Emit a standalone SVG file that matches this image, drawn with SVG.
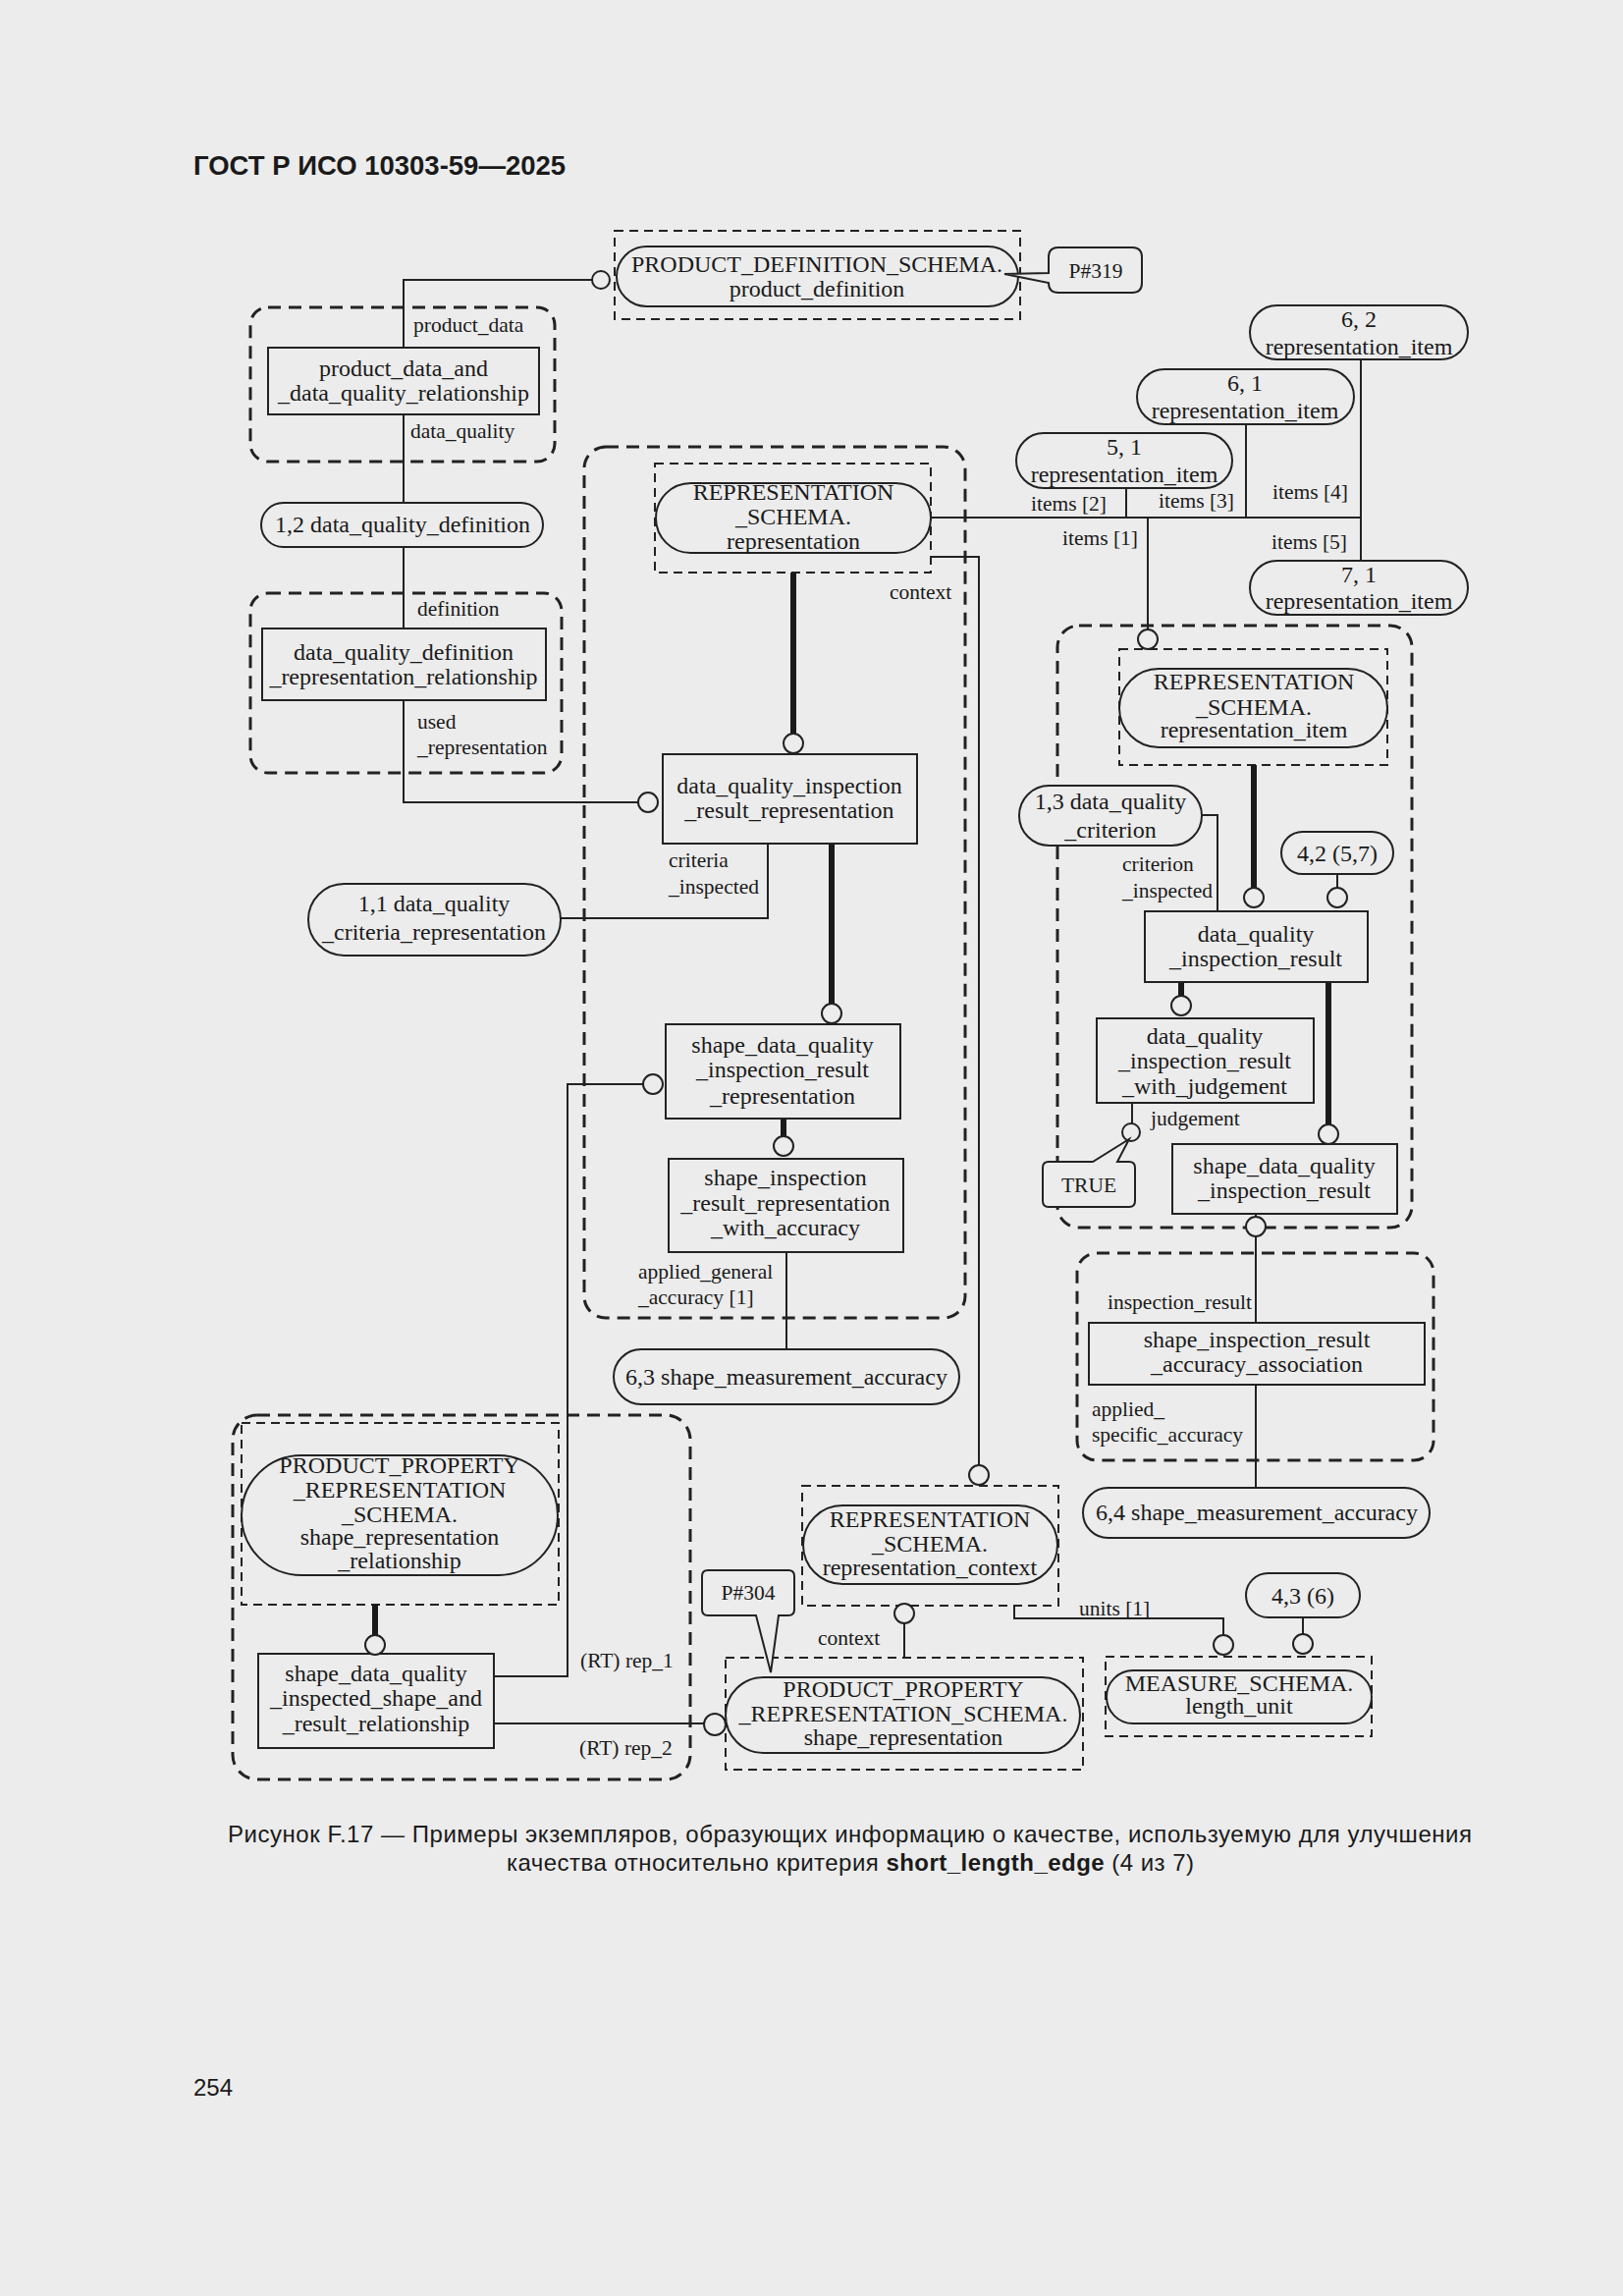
<svg xmlns="http://www.w3.org/2000/svg" width="1653" height="2338" viewBox="0 0 1653 2338">
<style>
.bg{fill:#ececec}
.grp{fill:none;stroke:#222;stroke-width:3;stroke-dasharray:13 8}
.ref{fill:none;stroke:#222;stroke-width:2;stroke-dasharray:9 6}
.box{fill:#ececec;stroke:#222;stroke-width:2}
.st{fill:#ececec;stroke:#222;stroke-width:2}
.ln{fill:none;stroke:#222;stroke-width:2}
.tk{fill:none;stroke:#1a1a1a;stroke-width:6}
.cr{fill:#ececec;stroke:#222;stroke-width:2}
.t{font-family:"Liberation Serif","Times New Roman",serif;font-size:24px;fill:#1a1a1a;text-anchor:middle}
.l{font-family:"Liberation Serif","Times New Roman",serif;font-size:21.5px;fill:#1a1a1a}
.cap{font-family:"Liberation Sans",Arial,sans-serif;font-size:24px;fill:#1a1a1a}
</style>
<rect class="bg" x="0" y="0" width="1653" height="2338"/>
<text class="cap" x="197" y="178" style="font-weight:bold;font-size:27.5px">ГОСТ Р ИСО 10303-59—2025</text>

<g id="groups">
<rect class="grp" x="255" y="313" width="310" height="157" rx="18"/>
<rect class="grp" x="255" y="604" width="317" height="183" rx="18"/>
<rect class="grp" x="595" y="455" width="388" height="887" rx="22"/>
<rect class="grp" x="1077" y="637" width="361" height="613" rx="22"/>
<rect class="grp" x="1097" y="1276" width="363" height="211" rx="20"/>
<rect class="grp" x="237" y="1441" width="466" height="371" rx="25"/>
<rect class="ref" x="626" y="235" width="413" height="90"/>
<rect class="ref" x="667" y="472" width="281" height="111"/>
<rect class="ref" x="1140" y="661" width="273" height="118"/>
<rect class="ref" x="817" y="1513" width="261" height="122"/>
<rect class="ref" x="739" y="1688" width="364" height="114"/>
<rect class="ref" x="1126" y="1687" width="271" height="81"/>
<rect class="ref" x="246" y="1449" width="323" height="185"/>
</g>

<g id="connectors">
<polyline class="ln" points="603,285 411,285 411,354"/>
<line class="ln" x1="411" y1="422" x2="411" y2="512"/>
<line class="ln" x1="411" y1="557" x2="411" y2="640"/>
<polyline class="ln" points="411,713 411,817 650,817"/>
<line class="tk" x1="808" y1="583" x2="808" y2="748"/>
<polyline class="ln" points="782,859 782,935 571,935"/>
<line class="tk" x1="847" y1="859" x2="847" y2="1023"/>
<polyline class="ln" points="503,1707 578,1707 578,1104 655,1104"/>
<line class="tk" x1="798" y1="1139" x2="798" y2="1158"/>
<line class="ln" x1="801" y1="1275" x2="801" y2="1374"/>
<polyline class="ln" points="948,567 997,567 997,1492"/>
<polyline class="ln" points="948,527 1386,527"/>
<line class="ln" x1="1147" y1="497" x2="1147" y2="527"/>
<line class="ln" x1="1269" y1="432" x2="1269" y2="527"/>
<line class="ln" x1="1386" y1="366" x2="1386" y2="571"/>
<line class="ln" x1="1169" y1="527" x2="1169" y2="641"/>
<line class="tk" x1="1277" y1="779" x2="1277" y2="905"/>
<polyline class="ln" points="1224,830 1240,830 1240,928"/>
<line class="ln" x1="1362" y1="890" x2="1362" y2="905"/>
<line class="tk" x1="1203" y1="1000" x2="1203" y2="1015"/>
<line class="tk" x1="1353" y1="1000" x2="1353" y2="1146"/>
<line class="ln" x1="1153" y1="1123" x2="1153" y2="1144"/>
<line class="ln" x1="1279" y1="1236" x2="1279" y2="1240"/>
<line class="ln" x1="1279" y1="1258" x2="1279" y2="1347"/>
<line class="ln" x1="1279" y1="1410" x2="1279" y2="1515"/>
<line class="ln" x1="1327" y1="1647" x2="1327" y2="1664"/>
<polyline class="ln" points="1033,1635 1033,1648 1246,1648 1246,1666"/>
<line class="ln" x1="921" y1="1652" x2="921" y2="1688"/>
<line class="tk" x1="382" y1="1634" x2="382" y2="1666"/>
<line class="ln" x1="503" y1="1755" x2="717" y2="1755"/>
</g>

<g id="labels">
<text class="l" x="421" y="338">product_data</text>
<text class="l" x="418" y="446">data_quality</text>
<text class="l" x="425" y="627">definition</text>
<text class="l" x="425" y="742">used</text>
<text class="l" x="425" y="768">_representation</text>
<text class="l" x="906" y="610">context</text>
<text class="l" x="681" y="883">criteria</text>
<text class="l" x="681" y="910">_inspected</text>
<text class="l" x="650" y="1302">applied_general</text>
<text class="l" x="650" y="1328">_accuracy [1]</text>
<text class="l" x="1050" y="520">items [2]</text>
<text class="l" x="1180" y="517">items [3]</text>
<text class="l" x="1296" y="508">items [4]</text>
<text class="l" x="1082" y="555">items [1]</text>
<text class="l" x="1295" y="559">items [5]</text>
<text class="l" x="1143" y="887">criterion</text>
<text class="l" x="1143" y="914">_inspected</text>
<text class="l" x="1172" y="1146">judgement</text>
<text class="l" x="1128" y="1333">inspection_result</text>
<text class="l" x="1112" y="1442">applied_</text>
<text class="l" x="1112" y="1468">specific_accuracy</text>
<text class="l" x="1099" y="1645">units [1]</text>
<text class="l" x="833" y="1675">context</text>
<text class="l" x="591" y="1698">(RT) rep_1</text>
<text class="l" x="590" y="1787">(RT) rep_2</text>
</g>

<g id="product_definition">
<rect class="st" x="628" y="251" width="409" height="61" rx="30.5"/>
<text class="t" x="832" y="277">PRODUCT_DEFINITION_SCHEMA.</text>
<text class="t" x="832" y="302">product_definition</text>
<circle class="cr" cx="612" cy="285" r="9"/>
</g>
<g id="p319">
<path class="box" d="M1078,252 H1153 Q1163,252 1163,262 V288 Q1163,298 1153,298 H1078 Q1068,298 1068,288 L1023,279 L1068,278 V262 Q1068,252 1078,252 Z"/>
<text class="l" x="1116" y="283" text-anchor="middle">P#319</text>
</g>
<g id="product_data_and_data_quality_relationship">
<rect class="box" x="273" y="354" width="276" height="68"/>
<text class="t" x="411" y="383">product_data_and</text>
<text class="t" x="411" y="408">_data_quality_relationship</text>
</g>
<g id="data_quality_definition_12">
<rect class="st" x="266" y="512" width="287" height="45" rx="22.5"/>
<text class="t" x="410" y="542">1,2 data_quality_definition</text>
</g>
<g id="data_quality_definition_representation_relationship">
<rect class="box" x="267" y="640" width="289" height="73"/>
<text class="t" x="411" y="672">data_quality_definition</text>
<text class="t" x="411" y="697">_representation_relationship</text>
</g>
<g id="representation">
<rect class="st" x="668" y="492" width="280" height="71" rx="35.5"/>
<text class="t" x="808" y="509">REPRESENTATION</text>
<text class="t" x="808" y="534">_SCHEMA.</text>
<text class="t" x="808" y="559">representation</text>
</g>
<g id="data_quality_inspection_result_representation">
<rect class="box" x="675" y="768" width="259" height="91"/>
<text class="t" x="804" y="808">data_quality_inspection</text>
<text class="t" x="804" y="833">_result_representation</text>
<circle class="cr" cx="808" cy="757" r="10"/>
<circle class="cr" cx="660" cy="817" r="10"/>
</g>
<g id="data_quality_criteria_representation_11">
<rect class="st" x="314" y="900" width="257" height="73" rx="36.5"/>
<text class="t" x="442" y="928">1,1 data_quality</text>
<text class="t" x="442" y="957">_criteria_representation</text>
</g>
<g id="shape_data_quality_inspection_result_representation">
<rect class="box" x="678" y="1043" width="239" height="96"/>
<text class="t" x="797" y="1072">shape_data_quality</text>
<text class="t" x="797" y="1097">_inspection_result</text>
<text class="t" x="797" y="1124">_representation</text>
<circle class="cr" cx="847" cy="1032" r="10"/>
<circle class="cr" cx="665" cy="1104" r="10"/>
</g>
<g id="shape_inspection_result_representation_with_accuracy">
<rect class="box" x="681" y="1180" width="239" height="95"/>
<text class="t" x="800" y="1207">shape_inspection</text>
<text class="t" x="800" y="1233">_result_representation</text>
<text class="t" x="800" y="1258">_with_accuracy</text>
<circle class="cr" cx="798" cy="1167" r="10"/>
</g>
<g id="shape_measurement_accuracy_63">
<rect class="st" x="625" y="1374" width="352" height="56" rx="28"/>
<text class="t" x="801" y="1410">6,3 shape_measurement_accuracy</text>
</g>
<g id="representation_item_51">
<rect class="st" x="1035" y="441" width="220" height="56" rx="28"/>
<text class="t" x="1145" y="463">5, 1</text>
<text class="t" x="1145" y="491">representation_item</text>
</g>
<g id="representation_item_61">
<rect class="st" x="1158" y="376" width="221" height="56" rx="28"/>
<text class="t" x="1268" y="398">6, 1</text>
<text class="t" x="1268" y="426">representation_item</text>
</g>
<g id="representation_item_62">
<rect class="st" x="1273" y="311" width="222" height="55" rx="27.5"/>
<text class="t" x="1384" y="333">6, 2</text>
<text class="t" x="1384" y="361">representation_item</text>
</g>
<g id="representation_item_71">
<rect class="st" x="1273" y="571" width="222" height="55" rx="27.5"/>
<text class="t" x="1384" y="593">7, 1</text>
<text class="t" x="1384" y="620">representation_item</text>
</g>
<g id="representation_item">
<rect class="st" x="1140" y="681" width="273" height="80" rx="40"/>
<text class="t" x="1277" y="702">REPRESENTATION</text>
<text class="t" x="1277" y="728">_SCHEMA.</text>
<text class="t" x="1277" y="751">representation_item</text>
<circle class="cr" cx="1169" cy="651" r="10"/>
</g>
<g id="data_quality_criterion_13">
<rect class="st" x="1038" y="800" width="186" height="61" rx="30.5"/>
<text class="t" x="1131" y="824">1,3 data_quality</text>
<text class="t" x="1131" y="853">_criterion</text>
</g>
<g id="ref_42">
<rect class="st" x="1305" y="847" width="114" height="43" rx="21.5"/>
<text class="t" x="1362" y="877">4,2 (5,7)</text>
</g>
<g id="data_quality_inspection_result">
<rect class="box" x="1166" y="928" width="227" height="72"/>
<text class="t" x="1279" y="959">data_quality</text>
<text class="t" x="1279" y="984">_inspection_result</text>
<circle class="cr" cx="1277" cy="914" r="10"/>
<circle class="cr" cx="1362" cy="914" r="10"/>
</g>
<g id="data_quality_inspection_result_with_judgement">
<rect class="box" x="1117" y="1037" width="221" height="86"/>
<text class="t" x="1227" y="1063">data_quality</text>
<text class="t" x="1227" y="1088">_inspection_result</text>
<text class="t" x="1227" y="1114">_with_judgement</text>
<circle class="cr" cx="1203" cy="1024" r="10"/>
<circle class="cr" cx="1152" cy="1153" r="9"/>
</g>
<g id="true_value">
<path class="box" d="M1068,1183 H1113 L1150,1160 L1138,1183 H1150 Q1156,1183 1156,1189 V1223 Q1156,1229 1150,1229 H1068 Q1062,1229 1062,1223 V1189 Q1062,1183 1068,1183 Z"/>
<text class="l" x="1109" y="1214" text-anchor="middle">TRUE</text>
</g>
<g id="shape_data_quality_inspection_result">
<rect class="box" x="1194" y="1165" width="229" height="71"/>
<text class="t" x="1308" y="1195">shape_data_quality</text>
<text class="t" x="1308" y="1220">_inspection_result</text>
<circle class="cr" cx="1353" cy="1155" r="10"/>
<circle class="cr" cx="1279" cy="1249" r="10"/>
</g>
<g id="shape_inspection_result_accuracy_association">
<rect class="box" x="1109" y="1347" width="342" height="63"/>
<text class="t" x="1280" y="1372">shape_inspection_result</text>
<text class="t" x="1280" y="1397">_accuracy_association</text>
</g>
<g id="shape_measurement_accuracy_64">
<rect class="st" x="1103" y="1515" width="353" height="51" rx="25.5"/>
<text class="t" x="1280" y="1548">6,4 shape_measurement_accuracy</text>
</g>
<g id="ref_43">
<rect class="st" x="1269" y="1602" width="116" height="45" rx="22.5"/>
<text class="t" x="1327" y="1633">4,3 (6)</text>
</g>
<g id="length_unit">
<rect class="st" x="1127" y="1701" width="270" height="54" rx="27"/>
<text class="t" x="1262" y="1722">MEASURE_SCHEMA.</text>
<text class="t" x="1262" y="1745">length_unit</text>
<circle class="cr" cx="1246" cy="1675" r="10"/>
<circle class="cr" cx="1327" cy="1674" r="10"/>
</g>
<g id="representation_context">
<rect class="st" x="818" y="1533" width="259" height="80" rx="40"/>
<text class="t" x="947" y="1555">REPRESENTATION</text>
<text class="t" x="947" y="1580">_SCHEMA.</text>
<text class="t" x="947" y="1604">representation_context</text>
<circle class="cr" cx="997" cy="1502" r="10"/>
<circle class="cr" cx="921" cy="1643" r="10"/>
</g>
<g id="shape_representation">
<rect class="st" x="739" y="1708" width="361" height="77" rx="38.5"/>
<text class="t" x="920" y="1728">PRODUCT_PROPERTY</text>
<text class="t" x="920" y="1753">_REPRESENTATION_SCHEMA.</text>
<text class="t" x="920" y="1777">shape_representation</text>
<circle class="cr" cx="728" cy="1756" r="11"/>
</g>
<g id="p304">
<path class="box" d="M721,1599 H803 Q809,1599 809,1605 V1639 Q809,1645 803,1645 H793 L785,1703 L770,1645 H721 Q715,1645 715,1639 V1605 Q715,1599 721,1599 Z"/>
<text class="l" x="762" y="1629" text-anchor="middle">P#304</text>
</g>
<g id="shape_representation_relationship">
<rect class="st" x="246" y="1482" width="322" height="122" rx="61"/>
<text class="t" x="407" y="1500">PRODUCT_PROPERTY</text>
<text class="t" x="407" y="1525">_REPRESENTATION</text>
<text class="t" x="407" y="1550">_SCHEMA.</text>
<text class="t" x="407" y="1573">shape_representation</text>
<text class="t" x="407" y="1597">_relationship</text>
</g>
<g id="shape_data_quality_inspected_shape_and_result_relationship">
<rect class="box" x="263" y="1684" width="240" height="96"/>
<text class="t" x="383" y="1712">shape_data_quality</text>
<text class="t" x="383" y="1737">_inspected_shape_and</text>
<text class="t" x="383" y="1763">_result_relationship</text>
<circle class="cr" cx="382" cy="1675" r="10"/>
</g>

<g id="caption">
<text class="cap" x="232" y="1876" textLength="1267" lengthAdjust="spacing">Рисунок F.17 — Примеры экземпляров, образующих информацию о качестве, используемую для улучшения</text>
<text class="cap" x="516" y="1905" textLength="700" lengthAdjust="spacing">качества относительно критерия <tspan font-weight="bold">short_length_edge</tspan> (4 из 7)</text>
</g>
<text class="cap" x="197" y="2134">254</text>
</svg>
